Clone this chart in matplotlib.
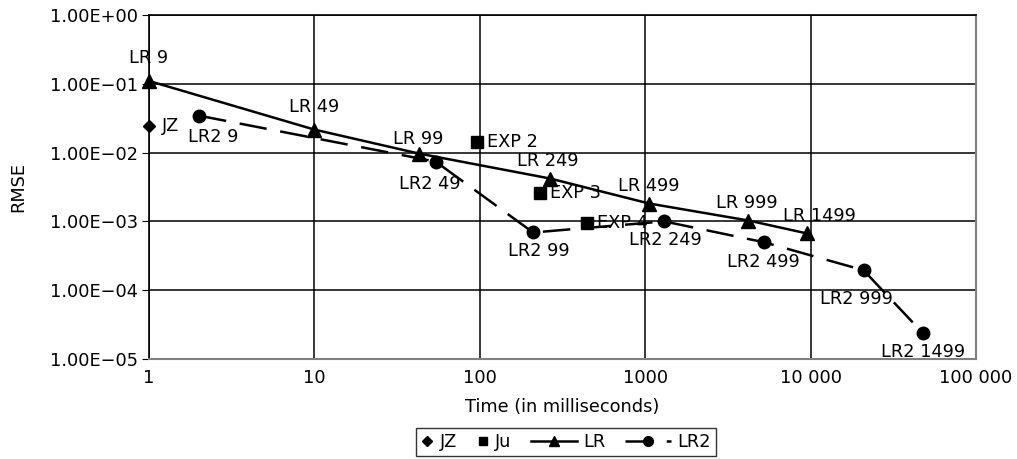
import matplotlib
matplotlib.use("Agg")
import matplotlib.pyplot as plt
from matplotlib.ticker import FixedLocator, FixedFormatter, NullLocator
from matplotlib.legend_handler import HandlerLine2D

plt.rcParams['font.family'] = ['DejaVu Sans']

# data
lr_x = [1, 10, 42.7, 266, 1057, 4210, 9460]
lr_y = [0.110, 0.0216, 0.0097, 0.0042, 0.00182, 0.00103, 0.00067]
lr_labels = ["LR 9", "LR 49", "LR 99", "LR 249", "LR 499", "LR 999", "LR 1499"]

lr2_x = [2.01, 54.1, 210, 1303, 5260, 20900, 47700]
lr2_y = [0.0344, 0.0074, 0.00069, 0.0010, 0.000496, 0.000195, 2.38e-5]
lr2_labels = ["LR2 9", "LR2 49", "LR2 99", "LR2 249", "LR2 499", "LR2 999", "LR2 1499"]

jz_x = [1]
jz_y = [0.0246]

ju_x = [95.9, 231, 445]
ju_y = [0.0144, 0.00263, 0.00094]
ju_labels = ["EXP 2", "EXP 3", "EXP 4"]

xticks = [1, 10, 100, 1000, 10000, 100000]
xtick_labels = ["1", "10", "100", "1000", "10 000", "100 000"]
yticks = [1e-5, 1e-4, 1e-3, 1e-2, 1e-1, 1]
ytick_labels = ["1.00E\u221205", "1.00E\u221204", "1.00E\u221203",
                "1.00E\u221202", "1.00E\u221201", "1.00E+00"]


class ShortHandler(HandlerLine2D):
    # marker-only legend entries get a narrow handle box
    def legend_artist(self, legend, orig_handle, fontsize, handlebox):
        handlebox.width = 0.7 * fontsize
        return super().legend_artist(legend, orig_handle, fontsize, handlebox)


fig = plt.figure(figsize=(10.17, 4.59), dpi=100)
ax = fig.add_axes([149/1017, 1 - 359/459, (976 - 149)/1017, (359 - 15)/459])

ax.set_xscale("log")
ax.set_yscale("log")
ax.set_xlim(1, 100000)
ax.set_ylim(1e-5, 1)

jz_line, = ax.plot(jz_x, jz_y, linestyle="none", marker="D", markersize=6.5,
                   color="black", label="JZ", clip_on=False)
ju_line, = ax.plot(ju_x, ju_y, linestyle="none", marker="s", markersize=8.5,
                   color="black", label="Ju")
ax.plot(lr_x, lr_y, "-", marker="^", markersize=10, color="black", lw=1.8, label="LR",
        clip_on=False)
ax.plot(lr2_x, lr2_y, marker="o", markersize=9, color="black", lw=1.8, label="LR2",
        dashes=(11, 5.5), clip_on=False)

fs = 12.8
# label offsets in points
lr_off = [(0, 10), (0, 10), (0, 4), (-2, 6), (0, 6), (-1, 6), (9, 6)]
for x, y, t, o in zip(lr_x, lr_y, lr_labels, lr_off):
    ax.annotate(t, (x, y), xytext=o, textcoords="offset points",
                ha="center", va="bottom", fontsize=fs)
lr2_off = [(-8, -9), (-4, -10), (4, -7), (1, -7), (-1, -8), (-5, -14), (0, -7)]
lr2_ha = ["left", "center", "center", "center", "center", "center", "center"]
for x, y, t, o, h in zip(lr2_x, lr2_y, lr2_labels, lr2_off, lr2_ha):
    ax.annotate(t, (x, y), xytext=o, textcoords="offset points",
                ha=h, va="top", fontsize=fs)
ax.annotate("JZ", (jz_x[0], jz_y[0]), xytext=(9, 0), textcoords="offset points",
            ha="left", va="center", fontsize=fs)
for x, y, t in zip(ju_x, ju_y, ju_labels):
    ax.annotate(t, (x, y), xytext=(7, 0), textcoords="offset points",
                ha="left", va="center", fontsize=fs)

ax.xaxis.set_major_locator(FixedLocator(xticks))
ax.xaxis.set_major_formatter(FixedFormatter(xtick_labels))
ax.xaxis.set_minor_locator(NullLocator())
ax.yaxis.set_major_locator(FixedLocator(yticks))
ax.yaxis.set_major_formatter(FixedFormatter(ytick_labels))
ax.yaxis.set_minor_locator(NullLocator())
ax.tick_params(axis="x", length=0, labelsize=fs, pad=7)
ax.tick_params(axis="y", length=5, labelsize=fs, pad=3)

ax.grid(True, which="major", color="black", lw=1.1)
for s in ["right", "bottom"]:
    ax.spines[s].set_color("#808080")
    ax.spines[s].set_linewidth(1.5)
ax.spines["left"].set_linewidth(1.2)
ax.spines["top"].set_linewidth(1.2)

ax.set_xlabel("Time (in milliseconds)", fontsize=fs, labelpad=8)
ax.set_ylabel("RMSE", fontsize=fs, labelpad=16)

leg = ax.legend(loc="center", bbox_to_anchor=(566/1017, 1 - 442/459),
                bbox_transform=fig.transFigure, ncol=4, frameon=True, fancybox=False,
                edgecolor="black", fontsize=fs, handlelength=2.6, columnspacing=1.1,
                handletextpad=0.35, borderpad=0.3, borderaxespad=0,
                handler_map={jz_line: ShortHandler(), ju_line: ShortHandler()})
leg.get_frame().set_linewidth(1.0)
leg.legend_handles[0].set_markersize(5)
leg.legend_handles[1].set_markersize(6)
leg.legend_handles[2].set_markersize(7)
leg.legend_handles[3].set_markersize(7)

fig.savefig("out.png", dpi=100)
